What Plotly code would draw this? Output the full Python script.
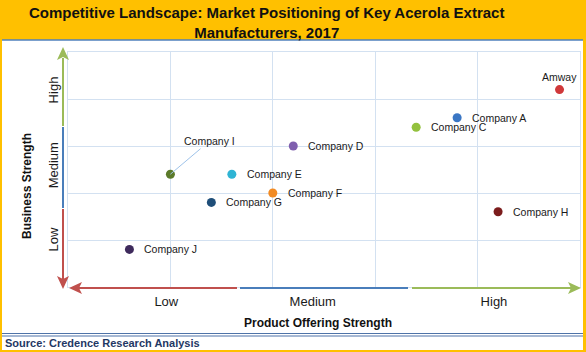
import plotly.graph_objects as go

# ---- data ----
companies = ["Amway", "Company A", "Company C", "Company D", "Company E",
             "Company F", "Company G", "Company H", "Company I", "Company J"]
product_strength = [4.80, 3.80, 3.40, 2.20, 1.60, 2.00, 1.40, 4.20, 1.00, 0.60]
business_strength = [4.20, 3.60, 3.40, 3.00, 2.40, 2.00, 1.80, 1.60, 2.40, 0.80]
colors = ["#d0383a", "#3a76c4", "#93c13e", "#7f5fae", "#2fb4d4",
          "#f28a22", "#1f4e79", "#7b1c1c", "#5b7a2a", "#3e2a5c"]
x_tick_labels = ["Low", "Medium", "High"]
x_tick_pos = [0.96, 2.39, 4.16]
y_tick_labels = ["Low", "Medium", "High"]
y_tick_pos = [0.97, 2.55, 4.15]

W, H = 586, 352
L, R, T, B = 68, 580, 52, 287


def fx(px):
    return (px - L) / (R - L)


def fy(py):
    return (B - py) / (B - T)


fig = go.Figure()
fig.add_trace(go.Scatter(
    x=product_strength, y=business_strength, mode="markers",
    marker=dict(size=9, color=colors, line=dict(width=0)),
    hoverinfo="skip", showlegend=False, cliponaxis=False,
))

ann = []
for name, xv, yv in zip(companies, product_strength, business_strength):
    base = dict(x=xv, y=yv, xref="x", yref="y", text=name,
                font=dict(family="Liberation Sans, Arial", size=10.5, color="#1a1a1a"))
    if name == "Amway":
        ann.append(dict(base, showarrow=False, xanchor="center", yanchor="middle", yshift=13))
    elif name == "Company I":
        ann.append(dict(base, showarrow=True, ax=39, ay=-33, arrowhead=0,
                        arrowwidth=1, arrowcolor="#9ec3ea", standoff=0, startstandoff=0))
    else:
        ann.append(dict(base, showarrow=False, xanchor="left", yanchor="middle", xshift=13))

# titles
ann.append(dict(x=fx(266), y=fy(22), xref="paper", yref="paper", showarrow=False,
                text="<b>Competitive Landscape: Market Positioning of Key Acerola Extract<br>Manufacturers, 2017</b>",
                font=dict(family="Liberation Sans, Arial", size=15, color="#111111"),
                xanchor="center", yanchor="middle"))
ann.append(dict(x=fx(27), y=fy(186), xref="paper", yref="paper", showarrow=False,
                text="<b>Business Strength</b>", textangle=-90,
                font=dict(family="Liberation Sans, Arial", size=12, color="#111111"),
                xanchor="center", yanchor="middle"))
ann.append(dict(x=fx(318), y=fy(323), xref="paper", yref="paper", showarrow=False,
                text="<b>Product Offering Strength</b>",
                font=dict(family="Liberation Sans, Arial", size=12, color="#111111"),
                xanchor="center", yanchor="middle"))
ann.append(dict(x=fx(3), y=fy(343), xref="paper", yref="paper", showarrow=False,
                text="<b>Source: Credence Research Analysis</b>",
                font=dict(family="Liberation Sans, Arial", size=11, color="#1f3864"),
                xanchor="left", yanchor="middle"))

shapes = []
# white panel & borders
shapes.append(dict(type="rect", xref="paper", yref="paper", layer="below",
                   x0=fx(2), x1=fx(583), y0=fy(40), y1=fy(350),
                   fillcolor="white", line=dict(width=0)))
shapes.append(dict(type="line", xref="paper", yref="paper", layer="below",
                   x0=fx(2), x1=fx(583), y0=fy(40), y1=fy(40),
                   line=dict(color="#4f81bd", width=1.5)))
for yy in (333.5, 336):
    shapes.append(dict(type="line", xref="paper", yref="paper", layer="below",
                       x0=fx(2), x1=fx(583), y0=fy(yy), y1=fy(yy),
                       line=dict(color="#4f73a8", width=1)))

RED, BLUE, GREEN = "#c0504d", "#4a7ebb", "#9bbb59"


def seg(x0, y0, x1, y1, c):
    shapes.append(dict(type="line", xref="paper", yref="paper", layer="above",
                       x0=fx(x0), x1=fx(x1), y0=fy(y0), y1=fy(y1),
                       line=dict(color=c, width=2)))


def tri(pts, c):
    path = "M " + " L ".join(f"{fx(a)},{fy(b)}" for a, b in pts) + " Z"
    shapes.append(dict(type="path", xref="paper", yref="paper", layer="above",
                       path=path, fillcolor=c, line=dict(color=c, width=0)))


# vertical arrow
AX = 63
seg(AX, 58, AX, 126, GREEN)
seg(AX, 127, AX, 208, BLUE)
seg(AX, 209, AX, 279, RED)
tri([(AX, 47), (AX - 6, 60), (AX, 57), (AX + 6, 60)], GREEN)
tri([(AX, 289), (AX - 6, 276), (AX, 279), (AX + 6, 276)], RED)
# horizontal arrow
AY = 288
seg(79, AY, 237, AY, RED)
seg(240, AY, 408, AY, BLUE)
seg(412, AY, 571, AY, GREEN)
tri([(69, AY), (82, AY - 6), (79, AY), (82, AY + 6)], RED)
tri([(581, AY), (568, AY - 6), (571, AY), (568, AY + 6)], GREEN)

GRID = "#d3e1f1"
fig.update_layout(
    width=W, height=H,
    margin=dict(l=L, r=W - R, t=T, b=H - B, pad=0),
    paper_bgcolor="#ffc000", plot_bgcolor="rgba(0,0,0,0)",
    showlegend=False, hovermode=False,
    annotations=ann, shapes=shapes,
    xaxis=dict(range=[0, 5], tickmode="array", tickvals=x_tick_pos, ticktext=x_tick_labels,
               showgrid=False, zeroline=False, showline=True, mirror=True,
               linecolor=GRID, linewidth=1, ticks="", ticklabelstandoff=2,
               tickfont=dict(family="Liberation Sans, Arial", size=13, color="#1a1a1a"),
               minor=dict(tickmode="linear", tick0=0, dtick=1, showgrid=True,
                          gridcolor=GRID, gridwidth=1, ticks=""),
               fixedrange=True),
    yaxis=dict(range=[0, 5], tickmode="array", tickvals=y_tick_pos, ticktext=y_tick_labels,
               tickangle=-90, showgrid=False, zeroline=False, showline=True, mirror=True,
               linecolor=GRID, linewidth=1, ticks="", ticklabelstandoff=4,
               tickfont=dict(family="Liberation Sans, Arial", size=13, color="#1a1a1a"),
               minor=dict(tickmode="linear", tick0=0, dtick=1, showgrid=True,
                          gridcolor=GRID, gridwidth=1, ticks=""),
               fixedrange=True),
)

fig.write_html("out.html")
